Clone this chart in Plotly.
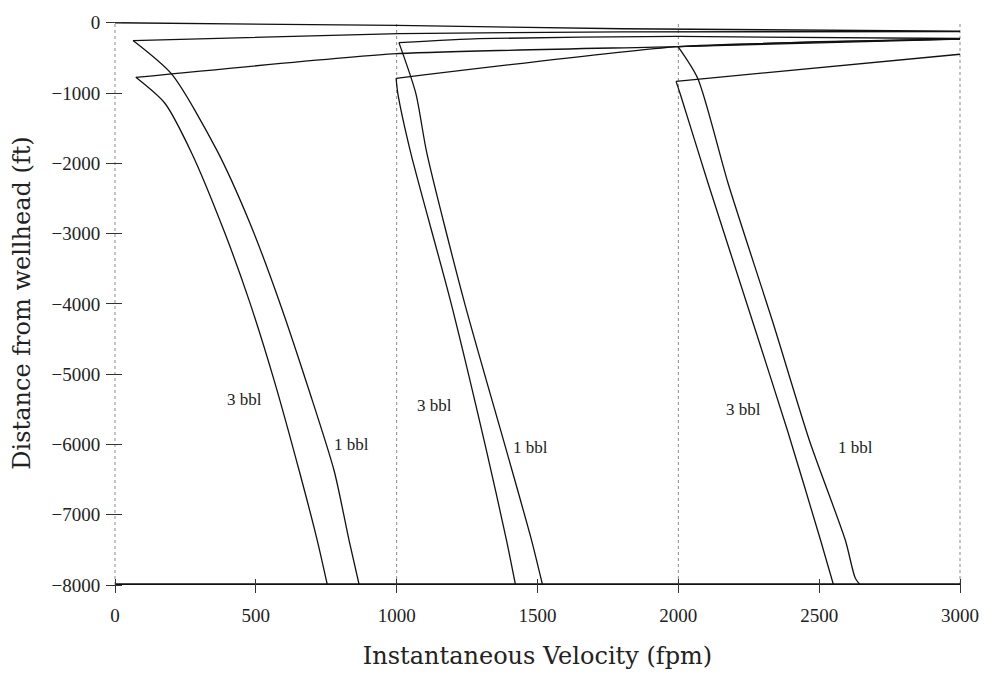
import plotly.graph_objects as go

# ---------------- data (velocity in fpm, depth in ft) ----------------
# top line from wellhead
top_v = [0, 1000, 1800, 3000]
top_d = [0, -38, -85, -120]

# bottom line at bit depth
bot_v = [0, 3000]
bot_d = [-8000, -8000]

# group 1 curves
g1_3bbl_v = [74, 177, 272, 389, 478, 566, 654, 718, 754]
g1_3bbl_d = [-777, -1145, -1852, -2982, -3972, -5102, -6375, -7364, -8000]
g1_1bbl_v = [64, 202, 361, 478, 584, 690, 778, 831, 867]
g1_1bbl_d = [-254, -735, -1809, -2841, -3972, -5244, -6375, -7364, -8000]

# group 2 curves
g2_3bbl_v = [998, 1004, 1050, 1192, 1319, 1390, 1422]
g2_3bbl_d = [-790, -1000, -1852, -3972, -6092, -7364, -8000]
g2_1bbl_v = [1008, 1068, 1107, 1240, 1390, 1479, 1518]
g2_1bbl_d = [-283, -1004, -1852, -3972, -6092, -7364, -8000]

# group 3 curves
g3_3bbl_v = [1992, 2006, 2105, 2264, 2388, 2505, 2551]
g3_3bbl_d = [-834, -1004, -2276, -4254, -5809, -7364, -8000]
g3_1bbl_v = [1999, 2069, 2176, 2335, 2466, 2593, 2628, 2646]
g3_1bbl_d = [-339, -792, -2276, -4254, -5951, -7364, -7901, -8000]

# lines leaving the start points towards the right edge
g1_1bbl_top_v = [64, 1008, 1800, 3000]
g1_1bbl_top_d = [-254, -155, -130, -125]
g1_3bbl_top_v = [74, 1000, 1999, 3000]
g1_3bbl_top_d = [-777, -440, -339, -232]
g2_1bbl_top_v = [1008, 1291, 1999, 3000]
g2_1bbl_top_d = [-283, -226, -195, -224]
g2_3bbl_top_v = [998, 1999, 3000]
g2_3bbl_top_d = [-790, -339, -232]
g3_1bbl_top_v = [1999, 2500, 3000]
g3_1bbl_top_d = [-339, -270, -230]
g3_3bbl_top_v = [1992, 3000]
g3_3bbl_top_d = [-834, -448]

# curve labels
label_text = ["3 bbl", "1 bbl", "3 bbl", "1 bbl", "3 bbl", "1 bbl"]
label_v = [459, 838, 1136, 1475, 2232, 2628]
label_d = [-5357, -6000, -5442, -6049, -5498, -6049]

# ticks and grid
x_ticks = [0, 500, 1000, 1500, 2000, 2500, 3000]
y_ticks = [0, -1000, -2000, -3000, -4000, -5000, -6000, -7000, -8000]
y_tick_text = ["0", "\u22121000", "\u22122000", "\u22123000", "\u22124000",
               "\u22125000", "\u22126000", "\u22127000", "\u22128000"]
grid_x = [0, 1000, 2000, 3000]

# ---------------- figure ----------------
fig = go.Figure()

for gx in grid_x:
    fig.add_vline(x=gx, line=dict(color="#8a8a8a", width=1, dash="dot"), layer="below")

line_style = dict(color="#111111", width=1.3)
straight = [
    (top_v, top_d),
    (g1_1bbl_top_v, g1_1bbl_top_d), (g1_3bbl_top_v, g1_3bbl_top_d),
    (g2_1bbl_top_v, g2_1bbl_top_d), (g2_3bbl_top_v, g2_3bbl_top_d),
    (g3_1bbl_top_v, g3_1bbl_top_d), (g3_3bbl_top_v, g3_3bbl_top_d),
]
curves = [
    (g1_3bbl_v, g1_3bbl_d), (g1_1bbl_v, g1_1bbl_d),
    (g2_3bbl_v, g2_3bbl_d), (g2_1bbl_v, g2_1bbl_d),
    (g3_3bbl_v, g3_3bbl_d), (g3_1bbl_v, g3_1bbl_d),
]
# bottom line doubles as the x-axis line
fig.add_trace(go.Scatter(x=bot_v, y=bot_d, mode="lines", line=dict(color="#111111", width=3.4),
                         showlegend=False, hoverinfo="skip"))
for xs, ys in straight:
    fig.add_trace(go.Scatter(x=xs, y=ys, mode="lines",
                             line=dict(line_style, shape="spline", smoothing=0.5),
                             showlegend=False, hoverinfo="skip"))
for xs, ys in curves:
    fig.add_trace(go.Scatter(x=xs, y=ys, mode="lines",
                             line=dict(line_style, shape="spline", smoothing=0.7),
                             showlegend=False, hoverinfo="skip"))

for t, v, d in zip(label_text, label_v, label_d):
    fig.add_annotation(x=v, y=d, text=t, showarrow=False,
                       font=dict(family="Liberation Serif", size=17, color="#222"))

xr = [-3.54, 3003.54]
yr = [-8000, 25]
tickfont = dict(family="Liberation Serif", size=19, color="#222")
titlefont = dict(family="DejaVu Serif", size=24, color="#222")

# axes are placed slightly inside the plot so their outside ticks cross the axis ("+" ticks)
fig.update_layout(
    width=991, height=680,
    margin=dict(l=114, r=27, t=17, b=95),
    paper_bgcolor="white", plot_bgcolor="white",
    xaxis=dict(range=xr, tickvals=x_ticks, ticktext=[str(v) for v in x_ticks],
               anchor="free", position=0.0123,
               ticks="outside", ticklen=14, tickcolor="#333", tickwidth=1,
               showgrid=False, zeroline=False, showline=False,
               tickfont=tickfont, ticklabelstandoff=6,
               title=dict(text="Instantaneous Velocity (fpm)", font=titlefont, standoff=22)),
    yaxis=dict(range=yr, tickvals=y_ticks, ticktext=y_tick_text,
               anchor="free", position=0.0094,
               ticks="outside", ticklen=16, tickcolor="#333", tickwidth=1,
               showgrid=False, zeroline=False, showline=False,
               tickfont=tickfont, ticklabelstandoff=2,
               title=dict(text="Distance from wellhead (ft)", font=titlefont, standoff=13)),
)

fig.write_html("out.html")
